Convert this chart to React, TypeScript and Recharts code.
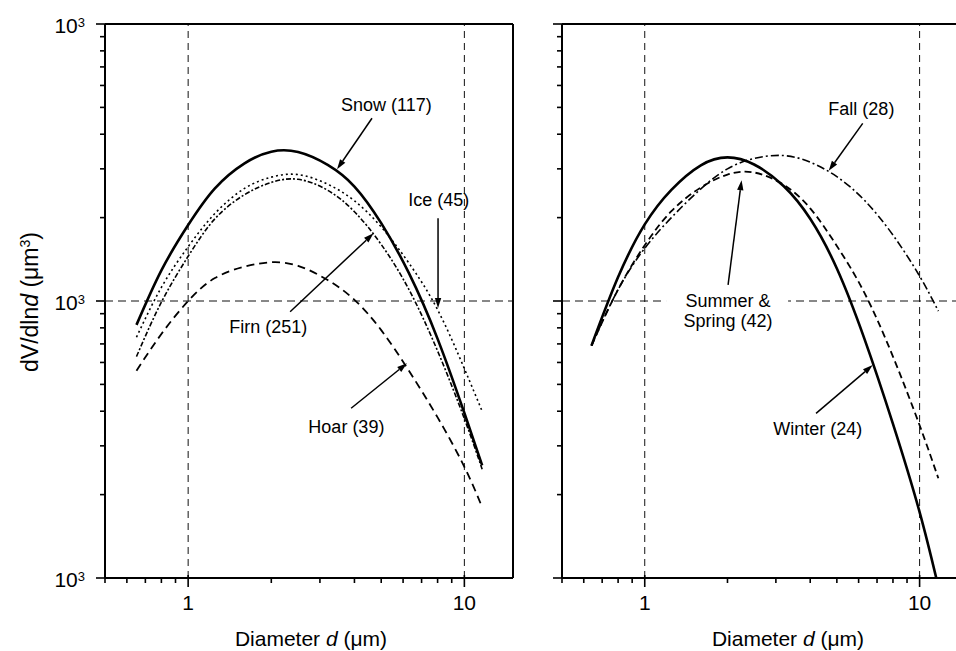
import React from 'react';
import { LineChart, Line, XAxis, YAxis, ReferenceLine, ReferenceDot } from 'recharts';

// ---------- data ----------
const leftD = [0.65, 0.8, 1, 1.25, 1.6, 2, 2.5, 3.2, 4, 5, 6.3, 8, 10, 11.6];
const snowV = [82, 129, 188, 255, 314, 346, 345, 310, 259, 191, 126, 73, 39.4, 25.5];
const iceV = [74, 112, 157, 207, 255, 280, 286, 264, 230, 185, 137, 93, 57, 40];
const firnV = [63, 99, 145, 198, 242, 268, 275, 251, 210, 160, 110, 66, 37.6, 24.7];
const hoarV = [56, 76, 100, 121, 133, 138, 134, 119, 101, 78.5, 56, 38, 25.2, 18];

const rightD = [0.64, 0.8, 1, 1.25, 1.6, 2, 2.5, 3.2, 4, 5, 6.3, 8, 10, 11.7];
const winterV = [69, 122, 189, 252, 309, 330, 311, 260, 198, 131, 73, 36, 17.3, 9.3];
const summerV = [69, 110, 159, 211, 257, 286, 291, 263, 216, 158, 107, 63, 35.6, 22.9];
const fallV = [69, 110, 155, 200, 254, 300, 327, 335, 317, 281, 231, 173, 123, 92];

const xTicks = [0.5, 0.6, 0.7, 0.8, 0.9, 1, 2, 3, 4, 5, 6, 7, 8, 9, 10];
const xMajor = [1, 10];
const yTicks = [10, 20, 30, 40, 50, 60, 70, 80, 90, 100, 200, 300, 400, 500, 600, 700, 800, 900, 1000];
const yMajor = [10, 100, 1000];
const yTickBase = '10';
const yTickExp = '3';
const xDomain = [0.5, 15];
const yDomain = [10, 1000];

const leftNotes = [
  { lines: ['Snow (117)'], x: 5.22, y: 485, from: [4.63, 457], to: [3.46, 299] },
  { lines: ['Ice (45)'], x: 8.08, y: 220, from: [8.03, 199], to: [8.03, 94.3] },
  { lines: ['Firn (251)'], x: 1.95, y: 76.6, from: [2.34, 91.5], to: [4.69, 175.5] },
  { lines: ['Hoar (39)'], x: 3.74, y: 33.4, from: [3.89, 41.0], to: [6.2, 59.6] },
];
const rightNotes = [
  { lines: ['Fall (28)'], x: 6.14, y: 469, from: [6.21, 438], to: [4.67, 295] },
  { lines: ['Summer &', 'Spring (42)'], x: 2.01, y: 95.1, from: [2.01, 114.3], to: [2.25, 273], box: true },
  { lines: ['Winter (24)'], x: 4.26, y: 32.8, from: [4.2, 39.3], to: [6.75, 58.7] },
];

const FONT = '"Liberation Sans", Arial, Helvetica, sans-serif';

const series = (xs: number[], vs: number[]) => xs.map((d, i) => ({ d, v: vs[i] }));

// ---------- custom pieces ----------
const XTick = (props: any) => {
  const { x, y, payload } = props;
  const v = payload.value;
  const major = xMajor.some((m) => Math.abs(m - v) < 1e-9);
  return (
    <g>
      <line x1={x} x2={x} y1={major ? y - 3 : y - 1} y2={y + (major ? 9 : 5)} stroke="#000" strokeWidth={1.6} />
      {major && (
        <text x={x} y={y + 32} textAnchor="middle" fontSize={21} fontFamily={FONT} fill="#000">
          {String(v)}
        </text>
      )}
    </g>
  );
};

const YTick = (props: any) => {
  const { x, y, payload, showLabel } = props;
  const major = yMajor.includes(payload.value);
  return (
    <g>
      <line x1={x - (major ? 9 : 5)} x2={x + 1} y1={y} y2={y} stroke="#000" strokeWidth={1.6} />
      {major && showLabel && (
        <text x={x - 20} y={y + 9} textAnchor="end" fontSize={21} fontFamily={FONT} fill="#000">
          {yTickBase}
          <tspan dy={-6} fontSize={13}>
            {yTickExp}
          </tspan>
        </text>
      )}
    </g>
  );
};

const Arrow = (props: any) => {
  const { x1, y1, x2, y2 } = props;
  const ang = Math.atan2(y2 - y1, x2 - x1);
  const L = 10;
  const W = 3.2;
  const bx = x2 - L * Math.cos(ang);
  const by = y2 - L * Math.sin(ang);
  const px = -Math.sin(ang) * W;
  const py = Math.cos(ang) * W;
  return (
    <g>
      <line x1={x1} y1={y1} x2={bx} y2={by} stroke="#000" strokeWidth={1.5} />
      <polygon points={`${x2},${y2} ${bx + px},${by + py} ${bx - px},${by - py}`} fill="#000" />
    </g>
  );
};

const NoteText = (lines: string[], box?: boolean) => (props: any) => {
  const { cx, cy } = props;
  return (
    <g>
      {box && <rect x={cx - 62} y={cy - 16} width={122} height={42} fill="#fff" />}
      {lines.map((t, i) => (
        <text key={i} x={cx} y={cy + i * 20} textAnchor="middle" fontSize={18} fontFamily={FONT} fill="#000">
          {t}
        </text>
      ))}
    </g>
  );
};

const XTitle = (cx: number) => () => (
  <text x={cx} y={646} textAnchor="middle" fontSize={21} fontFamily={FONT} fill="#000">
    Diameter <tspan fontStyle="italic">d</tspan> (μm)
  </text>
);

const YTitle = () => (
  <text x={38} y={302} transform="rotate(-90, 38, 302)" textAnchor="middle" fontSize={23} fontFamily={FONT} fill="#000">
    dV/dln<tspan fontStyle="italic">d</tspan> (μm<tspan dy={-8} fontSize={14}>3</tspan>
    <tspan dy={8}>)</tspan>
  </text>
);

const gridStyle = { stroke: '#111', strokeWidth: 1, strokeDasharray: '7 5' };

const renderNotes = (notes: any[], prefix: string) => [
  ...notes.map((n, i) => (
    <ReferenceLine
      key={`${prefix}a${i}`}
      segment={[
        { x: n.from[0], y: n.from[1] },
        { x: n.to[0], y: n.to[1] },
      ]}
      shape={Arrow}
    />
  )),
  ...notes.map((n, i) => (
    <ReferenceDot key={`${prefix}t${i}`} x={n.x} y={n.y} r={0} shape={NoteText(n.lines, n.box)} />
  )),
];

const lineCommon = { dataKey: 'v', type: 'natural' as const, stroke: '#000', dot: false, activeDot: false, isAnimationActive: false };

export default function App() {
  return (
    <div style={{ position: 'absolute', left: 0, top: 0, width: 956, height: 651, background: '#fff', overflow: 'hidden' }}>
      {/* Left panel */}
      <div style={{ position: 'absolute', left: 0, top: 0 }}>
        <LineChart width={530} height={651} margin={{ top: 24, right: 17, left: 0, bottom: 0 }}>
          <XAxis
            dataKey="d"
            type="number"
            scale="log"
            domain={xDomain}
            ticks={xTicks}
            interval={0}
            allowDataOverflow
            height={73}
            tickSize={0}
            tickMargin={0}
            tickLine={false}
            axisLine={{ stroke: '#000', strokeWidth: 2 }}
            tick={(p: any) => <XTick {...p} />}
            label={XTitle(311)}
          />
          <YAxis
            dataKey="v"
            type="number"
            scale="log"
            domain={yDomain}
            ticks={yTicks}
            interval={0}
            allowDataOverflow
            width={105}
            tickSize={0}
            tickMargin={0}
            tickLine={false}
            axisLine={{ stroke: '#000', strokeWidth: 2 }}
            tick={(p: any) => <YTick {...p} showLabel />}
            label={YTitle}
          />
          <ReferenceLine x={1} {...gridStyle} />
          <ReferenceLine x={10} {...gridStyle} />
          <ReferenceLine y={100} {...gridStyle} strokeDasharray="8 5" />
          <ReferenceLine y={1000} stroke="#000" strokeWidth={2} />
          <ReferenceLine x={15} stroke="#000" strokeWidth={2} />
          <Line {...lineCommon} data={series(leftD, hoarV)} strokeWidth={1.8} strokeDasharray="8 5" />
          <Line {...lineCommon} data={series(leftD, firnV)} strokeWidth={1.6} strokeDasharray="5 2 2 2" />
          <Line {...lineCommon} data={series(leftD, iceV)} strokeWidth={1.6} strokeDasharray="2 3" />
          <Line {...lineCommon} data={series(leftD, snowV)} strokeWidth={2.6} />
          {renderNotes(leftNotes, 'l')}
        </LineChart>
      </div>
      {/* Right panel (cropped at the page edge) */}
      <div style={{ position: 'absolute', left: 530, top: 0, width: 426, height: 651, overflow: 'hidden' }}>
        <LineChart width={443} height={651} margin={{ top: 24, right: 5, left: 0, bottom: 0 }}>
          <XAxis
            dataKey="d"
            type="number"
            scale="log"
            domain={xDomain}
            ticks={xTicks}
            interval={0}
            allowDataOverflow
            height={73}
            tickSize={0}
            tickMargin={0}
            tickLine={false}
            axisLine={{ stroke: '#000', strokeWidth: 2 }}
            tick={(p: any) => <XTick {...p} />}
            label={XTitle(258)}
          />
          <YAxis
            dataKey="v"
            type="number"
            scale="log"
            domain={yDomain}
            ticks={yTicks}
            interval={0}
            allowDataOverflow
            width={32}
            tickSize={0}
            tickMargin={0}
            tickLine={false}
            axisLine={{ stroke: '#000', strokeWidth: 2 }}
            tick={(p: any) => <YTick {...p} showLabel={false} />}
          />
          <ReferenceLine x={1} {...gridStyle} />
          <ReferenceLine x={10} {...gridStyle} />
          <ReferenceLine y={100} {...gridStyle} strokeDasharray="8 5" />
          <ReferenceLine y={1000} stroke="#000" strokeWidth={2} />
          <Line {...lineCommon} data={series(rightD, fallV)} strokeWidth={1.6} strokeDasharray="8 3 2 3" />
          <Line {...lineCommon} data={series(rightD, summerV)} strokeWidth={1.8} strokeDasharray="7 4" />
          <Line {...lineCommon} data={series(rightD, winterV)} strokeWidth={2.6} />
          {renderNotes(rightNotes, 'r')}
        </LineChart>
      </div>
    </div>
  );
}
